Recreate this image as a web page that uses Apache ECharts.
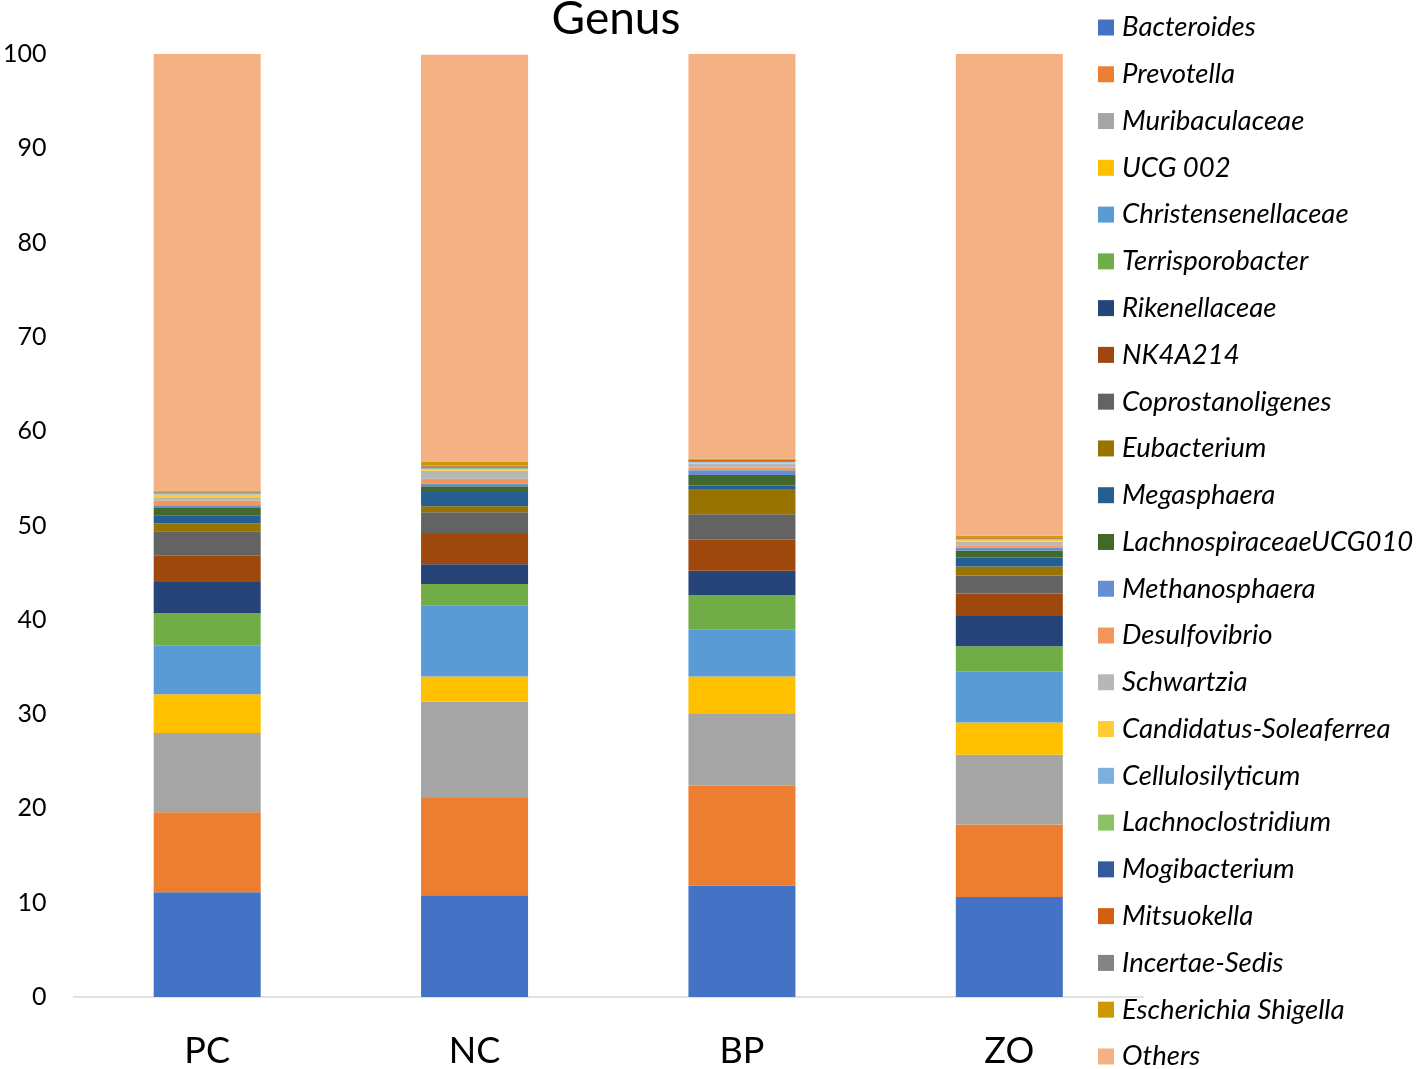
<!DOCTYPE html>
<html><head><meta charset="utf-8">
<script src="https://cdn.jsdelivr.net/npm/echarts@6/dist/echarts.min.js"></script>
<style>html,body{margin:0;padding:0;background:#fff}#c{width:1416px;height:1069px}</style>
</head><body><div id="c"></div>
<script>
const categories = ['PC', 'NC', 'BP', 'ZO'];
const genera = ['Bacteroides','Prevotella','Muribaculaceae','UCG 002','Christensenellaceae','Terrisporobacter','Rikenellaceae','NK4A214','Coprostanoligenes','Eubacterium','Megasphaera','LachnospiraceaeUCG010','Methanosphaera','Desulfovibrio','Schwartzia','Candidatus-Soleaferrea','Cellulosilyticum','Lachnoclostridium','Mogibacterium','Mitsuokella','Incertae-Sedis','Escherichia Shigella','Others'];
const colors = ['#4472C4','#ED7D31','#A5A5A5','#FFC000','#5B9BD5','#70AD47','#264478','#9E480E','#636363','#997300','#255E91','#43682B','#698ED0','#F1975A','#B7B7B7','#FFCD33','#7CAFDD','#8CC168','#335AA1','#D26012','#848484','#CC9A00','#F4B183'];
const Bacteroides = [11.1, 10.8, 11.8, 10.6];
const Prevotella = [8.5, 10.3, 10.6, 7.7];
const Muribaculaceae = [8.4, 10.2, 7.7, 7.4];
const UCG002 = [4.1, 2.7, 3.9, 3.4];
const Christensenellaceae = [5.2, 7.5, 5.0, 5.4];
const Terrisporobacter = [3.4, 2.3, 3.6, 2.7];
const Rikenellaceae = [3.3, 2.1, 2.6, 3.2];
const NK4A214 = [2.8, 3.3, 3.3, 2.4];
const Coprostanoligenes = [2.6, 2.2, 2.7, 1.9];
const Eubacterium = [0.85, 0.65, 2.6, 0.95];
const Megasphaera = [0.85, 1.5, 0.45, 0.95];
const LachnoUCG010 = [0.75, 0.6, 1.1, 0.75];
const Methanosphaera = [0.3, 0.3, 0.5, 0.3];
const Desulfovibrio = [0.5, 0.5, 0.3, 0.2];
const Schwartzia = [0.35, 0.85, 0.4, 0.45];
const Candidatus = [0.28, 0.18, 0.1, 0.17];
const Cellulosilyticum = [0.1, 0.05, 0.1, 0.05];
const Lachnoclostridium = [0.05, 0.05, 0.05, 0.05];
const Mogibacterium = [0.05, 0.05, 0.05, 0.05];
const Mitsuokella = [0.05, 0.15, 0.1, 0.1];
const IncertaeSedis = [0.05, 0.05, 0.05, 0.05];
const Escherichia = [0.14, 0.4, 0.1, 0.13];
const Others = [46.4, 43.2, 42.9, 51.1];
const yTicks = [0,10,20,30,40,50,60,70,80,90,100];

const values = [Bacteroides,Prevotella,Muribaculaceae,UCG002,Christensenellaceae,Terrisporobacter,Rikenellaceae,NK4A214,Coprostanoligenes,Eubacterium,Megasphaera,LachnoUCG010,Methanosphaera,Desulfovibrio,Schwartzia,Candidatus,Cellulosilyticum,Lachnoclostridium,Mogibacterium,Mitsuokella,IncertaeSedis,Escherichia,Others];

const FONT = 'Lato';
const chart = echarts.init(document.getElementById('c'), null, {renderer:'canvas'});
chart.setOption({
  animation: false,
  color: colors,
  title: {
    text: 'Genus', left: 611, top: -9, textAlign: 'center',
    textStyle: {fontFamily: FONT, fontSize: 46, fontWeight: 'normal', color: '#000'}
  },
  legend: {
    orient: 'vertical', left: 1098, top: 14, height: 1100, padding: 0,
    itemWidth: 16, itemHeight: 16, itemGap: 19.77,
    icon: 'rect',
    data: genera,
    textStyle: {fontFamily: FONT, fontStyle: 'italic', fontSize: 27.5, color: '#000', padding: [0,0,0,3]}
  },
  grid: {left: 70, right: 273, top: 54, bottom: 68.5, containLabel: false},
  xAxis: {
    type: 'category', data: categories,
    axisLine: {lineStyle: {color: '#D9D9D9', width: 1.5}},
    axisTick: {show: false},
    axisLabel: {fontFamily: FONT, fontSize: 36, color: '#000', margin: 36}
  },
  yAxis: {
    type: 'value', min: 0, max: 100, interval: 10,
    axisLine: {show: false}, axisTick: {show: false},
    splitLine: {show: false},
    axisLabel: {fontFamily: FONT, fontSize: 25, color: '#000', margin: 27,
      formatter: v => yTicks.includes(v) ? String(v) : ''}
  },
  series: genera.map((g, i) => ({
    name: g, type: 'bar', stack: 'total', barWidth: 107,
    data: values[i],
    itemStyle: {color: colors[i]}
  }))
});
</script></body></html>
